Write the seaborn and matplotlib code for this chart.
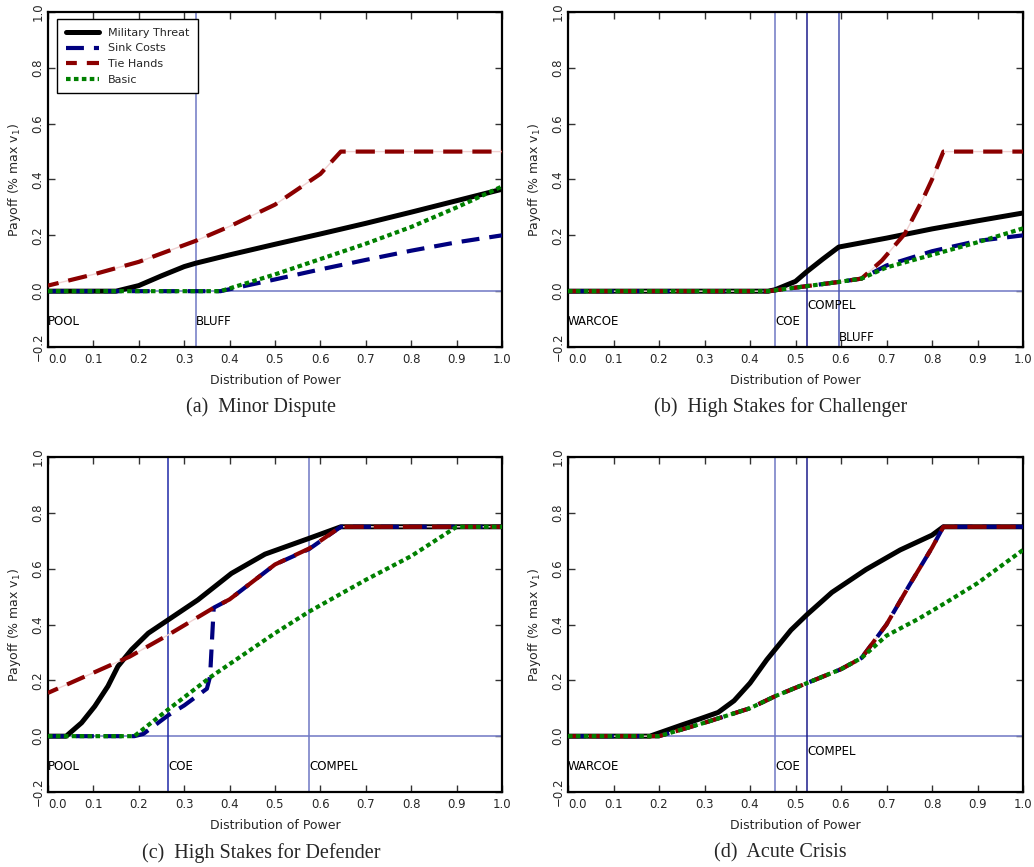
import numpy as np
import pandas as pd
import matplotlib
matplotlib.use("Agg")
import matplotlib.pyplot as plt
import seaborn as sns

# ---------------- data ----------------
series_names = ["Military Threat", "Sink Costs", "Tie Hands", "Basic"]
captions = ["(a)  Minor Dispute", "(b)  High Stakes for Challenger",
            "(c)  High Stakes for Defender", "(d)  Acute Crisis"]
x_ticks = [0.0, 0.1, 0.2, 0.3, 0.4, 0.5, 0.6, 0.7, 0.8, 0.9, 1.0]
y_ticks = [-0.2, 0.0, 0.2, 0.4, 0.6, 0.8, 1.0]

# (a) Minor Dispute
a_x_mt = [0, 0.15, 0.2, 0.25, 0.3, 0.325, 0.4, 0.5, 0.6, 0.7, 0.8, 0.9, 1.0]
a_y_mt = [0, 0, 0.02, 0.055, 0.088, 0.10, 0.13, 0.168, 0.205, 0.243, 0.283, 0.324, 0.365]
a_x_sc = [0, 0.38, 0.5, 0.6, 0.7, 0.8, 0.9, 1.0]
a_y_sc = [0, 0, 0.042, 0.078, 0.112, 0.145, 0.175, 0.20]
a_x_th = [0, 0.1, 0.2, 0.325, 0.4, 0.5, 0.6, 0.645, 1.0]
a_y_th = [0.02, 0.06, 0.105, 0.18, 0.232, 0.31, 0.42, 0.50, 0.50]
a_x_b = [0, 0.38, 0.5, 0.6, 0.7, 0.8, 0.9, 1.0]
a_y_b = [0, 0, 0.06, 0.115, 0.17, 0.23, 0.30, 0.375]
a_vlines = [0.325]
a_vlabels = [("POOL", 0.0, -0.11), ("BLUFF", 0.325, -0.11)]

# (b) High Stakes for Challenger
b_x_mt = [0, 0.44, 0.455, 0.5, 0.525, 0.56, 0.595, 0.7, 0.8, 0.9, 1.0]
b_y_mt = [0, 0, 0.005, 0.035, 0.07, 0.115, 0.158, 0.19, 0.223, 0.252, 0.28]
b_x_sc = [0, 0.44, 0.525, 0.595, 0.645, 0.7, 0.8, 0.9, 1.0]
b_y_sc = [0, 0, 0.018, 0.033, 0.045, 0.092, 0.143, 0.18, 0.20]
b_x_th = [0, 0.44, 0.525, 0.595, 0.645, 0.69, 0.74, 0.78, 0.8, 0.825, 1.0]
b_y_th = [0, 0, 0.018, 0.033, 0.045, 0.11, 0.205, 0.33, 0.40, 0.50, 0.50]
b_x_b = [0, 0.44, 0.525, 0.595, 0.645, 0.7, 0.8, 0.9, 1.0]
b_y_b = [0, 0, 0.018, 0.033, 0.045, 0.085, 0.13, 0.175, 0.225]
b_vlines = [0.455, 0.525, 0.595]
b_vlabels = [("WARCOE", 0.0, -0.11), ("COE", 0.455, -0.11),
             ("COMPEL", 0.525, -0.05), ("BLUFF", 0.595, -0.165)]

# (c) High Stakes for Defender
c_x_mt = [0, 0.04, 0.074, 0.103, 0.132, 0.154, 0.184, 0.221, 0.265, 0.33, 0.404, 0.478, 0.574, 0.645, 1.0]
c_y_mt = [0, 0, 0.048, 0.107, 0.179, 0.25, 0.31, 0.369, 0.417, 0.488, 0.583, 0.652, 0.708, 0.75, 0.75]
c_x_sc = [0, 0.19, 0.21, 0.265, 0.3, 0.35, 0.357, 0.365, 0.4, 0.5, 0.575, 0.645, 1.0]
c_y_sc = [0, 0, 0.008, 0.075, 0.11, 0.17, 0.214, 0.46, 0.49, 0.615, 0.67, 0.75, 0.75]
c_x_th = [0, 0.18, 0.265, 0.365, 0.4, 0.5, 0.575, 0.645, 1.0]
c_y_th = [0.155, 0.285, 0.363, 0.46, 0.49, 0.615, 0.672, 0.75, 0.75]
c_x_b = [0, 0.19, 0.265, 0.36, 0.5, 0.575, 0.7, 0.8, 0.9, 1.0]
c_y_b = [0, 0, 0.096, 0.214, 0.369, 0.446, 0.56, 0.645, 0.75, 0.75]
c_vlines = [0.265, 0.575]
c_vlabels = [("POOL", 0.0, -0.11), ("COE", 0.265, -0.11), ("COMPEL", 0.575, -0.11)]

# (d) Acute Crisis
d_x_mt = [0, 0.18, 0.25, 0.29, 0.33, 0.365, 0.4, 0.437, 0.455, 0.49, 0.525, 0.58, 0.655, 0.73, 0.8, 0.825, 1.0]
d_y_mt = [0, 0, 0.04, 0.062, 0.085, 0.127, 0.19, 0.274, 0.31, 0.38, 0.435, 0.515, 0.597, 0.667, 0.72, 0.75, 0.75]
d_x_sc = [0, 0.2, 0.3, 0.4, 0.455, 0.525, 0.6, 0.645, 0.7, 0.75, 0.8, 0.825, 1.0]
d_y_sc = [0, 0, 0.048, 0.10, 0.143, 0.19, 0.24, 0.28, 0.40, 0.54, 0.675, 0.75, 0.75]
d_x_th = [0, 0.2, 0.3, 0.4, 0.455, 0.525, 0.6, 0.645, 0.7, 0.75, 0.8, 0.825, 1.0]
d_y_th = [0, 0, 0.048, 0.10, 0.143, 0.19, 0.24, 0.28, 0.40, 0.54, 0.675, 0.75, 0.75]
d_x_b = [0, 0.2, 0.3, 0.4, 0.455, 0.525, 0.6, 0.645, 0.7, 0.77, 0.83, 0.9, 1.0]
d_y_b = [0, 0, 0.048, 0.10, 0.143, 0.19, 0.24, 0.28, 0.36, 0.42, 0.478, 0.548, 0.667]
d_vlines = [0.455, 0.525]
d_vlabels = [("WARCOE", 0.0, -0.11), ("COE", 0.455, -0.11), ("COMPEL", 0.525, -0.055)]

panels = [
    dict(mt=(a_x_mt, a_y_mt), sc=(a_x_sc, a_y_sc), th=(a_x_th, a_y_th), b=(a_x_b, a_y_b),
         vl=a_vlines, lab=a_vlabels, vcol=["#6f78c4"]),
    dict(mt=(b_x_mt, b_y_mt), sc=(b_x_sc, b_y_sc), th=(b_x_th, b_y_th), b=(b_x_b, b_y_b),
         vl=b_vlines, lab=b_vlabels, vcol=["#6f78c4", "#1c1c8c", "#4a55b0"]),
    dict(mt=(c_x_mt, c_y_mt), sc=(c_x_sc, c_y_sc), th=(c_x_th, c_y_th), b=(c_x_b, c_y_b),
         vl=c_vlines, lab=c_vlabels, vcol=["#1f2aa8", "#6f78c4"]),
    dict(mt=(d_x_mt, d_y_mt), sc=(d_x_sc, d_y_sc), th=(d_x_th, d_y_th), b=(d_x_b, d_y_b),
         vl=d_vlines, lab=d_vlabels, vcol=["#6f78c4", "#1c1c8c"]),
]

# ---------------- style ----------------
sns.set_theme(style="ticks")
plt.rcParams["font.family"] = ["DejaVu Sans"]
plt.rcParams["axes.linewidth"] = 1.6

fig = plt.figure(figsize=(10.34, 8.67), dpi=100)
W, H = 1034, 867
boxes = [(48, 12, 502, 347), (568, 12, 1023, 347),
         (48, 457, 502, 792), (568, 457, 1023, 792)]
cap_pos = [(261, 407), (781, 407), (261, 853), (780, 853)]

C_MT, C_SC, C_TH, C_B = "#000000", "#00007f", "#8b0000", "#008000"
LW = 3.0

for i, (p, (l, t, r, b)) in enumerate(zip(panels, boxes)):
    ax = fig.add_axes([l / W, 1 - b / H, (r - l) / W, (b - t) / H])
    ax.axhline(0, color="#7a82c8", lw=1.2, zorder=1)
    for xv, col in zip(p["vl"], p["vcol"]):
        ax.axvline(xv, color=col, lw=1.1, zorder=1)
    for txt, xv, yv in p["lab"]:
        ax.text(xv, yv, txt, fontsize=8.5, ha="left", va="center", color="black", zorder=2)

    lab = (lambda s: s) if i == 0 else (lambda s: None)
    sns.lineplot(x=p["mt"][0], y=p["mt"][1], ax=ax, color=C_MT, lw=3.6,
                 label=lab(series_names[0]), estimator=None, sort=False, zorder=3)
    sns.lineplot(x=p["th"][0], y=p["th"][1], ax=ax, color="#f0d2d2", lw=1.0,
                 estimator=None, sort=False, zorder=3.5)
    sns.lineplot(x=p["sc"][0], y=p["sc"][1], ax=ax, color=C_SC, lw=LW,
                 linestyle=(0, (4.3, 2.4)), label=lab(series_names[1]),
                 estimator=None, sort=False, zorder=4)
    sns.lineplot(x=p["th"][0], y=p["th"][1], ax=ax, color=C_TH, lw=LW,
                 linestyle=(2.0, (4.6, 2.4)), label=lab(series_names[2]),
                 estimator=None, sort=False, zorder=5)
    sns.lineplot(x=p["b"][0], y=p["b"][1], ax=ax, color=C_B, lw=LW,
                 linestyle=(0, (1.1, 0.8)), label=lab(series_names[3]),
                 estimator=None, sort=False, zorder=6)

    ax.set_xlim(0, 1.0)
    ax.set_ylim(-0.2, 1.0)
    ax.set_xticks(x_ticks)
    ax.set_yticks(y_ticks)
    ax.set_xticklabels([f"{v:.1f}" for v in x_ticks])
    ax.set_yticklabels([f"{v:.1f}".replace("-", "\u2212") for v in y_ticks])
    ax.tick_params(direction="in", top=True, right=True, length=5, width=1.0,
                   labelsize=8.5, color="#333333")
    ax.tick_params(axis="y", pad=2.5)
    ax.tick_params(axis="x", pad=4)
    for lbl in ax.get_yticklabels():
        lbl.set_rotation(90)
        lbl.set_va("center")
        lbl.set_ha("right")
    ax.get_xticklabels()[0].set_ha("left")
    for s in ax.spines.values():
        s.set_linewidth(1.6)
        s.set_color("black")
    ax.set_xlabel("Distribution of Power", fontsize=9, labelpad=6)
    ax.set_ylabel("Payoff (% max v$_1$)", fontsize=9, labelpad=6)

    if i == 0:
        leg = ax.legend(loc="upper left", bbox_to_anchor=(0.02, 0.979), borderaxespad=0,
                        fontsize=8, frameon=True, fancybox=False, framealpha=1,
                        edgecolor="black", handlelength=3.0, labelspacing=0.5,
                        borderpad=0.8, handletextpad=0.8)
        leg.get_frame().set_linewidth(1.0)
    else:
        if ax.get_legend() is not None:
            ax.get_legend().remove()

    cx, cy = cap_pos[i]
    fig.text(cx / W, 1 - cy / H, captions[i], ha="center", va="center",
             fontsize=14.5, family="Liberation Serif")

fig.savefig("out.png", dpi=100)
